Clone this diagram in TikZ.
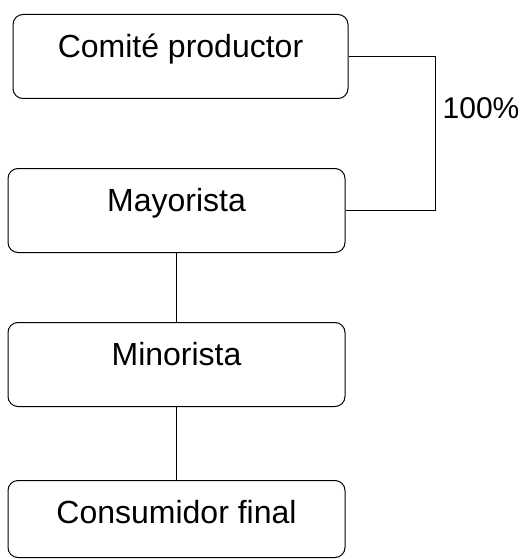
\documentclass[tikz,border=0pt]{standalone}
\usepackage{fontspec}
\setmainfont{Liberation Sans}
\usepackage{tikz}
\usetikzlibrary{calc}
\usetikzlibrary{positioning}

\tikzset{
  etapa/.style={draw=black, line width=1pt, rounded corners=10pt,
    minimum width=337pt, inner xsep=0pt, inner ysep=0pt,
    text height=43pt, text depth=41pt, anchor=north,
    font=\fontsize{32}{38}\selectfont},
  enlace/.style={draw=black, line width=1pt}
}

\begin{document}
\begin{tikzpicture}[x=1pt,y=1pt]
    \useasboundingbox (0,0) rectangle (521,-559);
    \node[etapa, minimum width=335pt] (C) at (180.5,-14) {Comité productor};
    \node[etapa] (M) at (176.5,-168) {Mayorista};
    \node[etapa] (Mi) at (176.5,-322) {Minorista};
    \node[etapa, text depth=34pt] (CF) at (176.5,-480) {Consumidor final};
    \path[enlace] (C.east) -- ++(87,0) coordinate (k) |- (M.east);
    \node[anchor=west, inner sep=0pt, font=\fontsize{30}{36}\selectfont] (P) at ($(k)+(7,-52)$) {100\%};
    \path[enlace] (M) edge (Mi);
    \path[enlace] (Mi) edge (CF);
  \end{tikzpicture}
\end{document}
